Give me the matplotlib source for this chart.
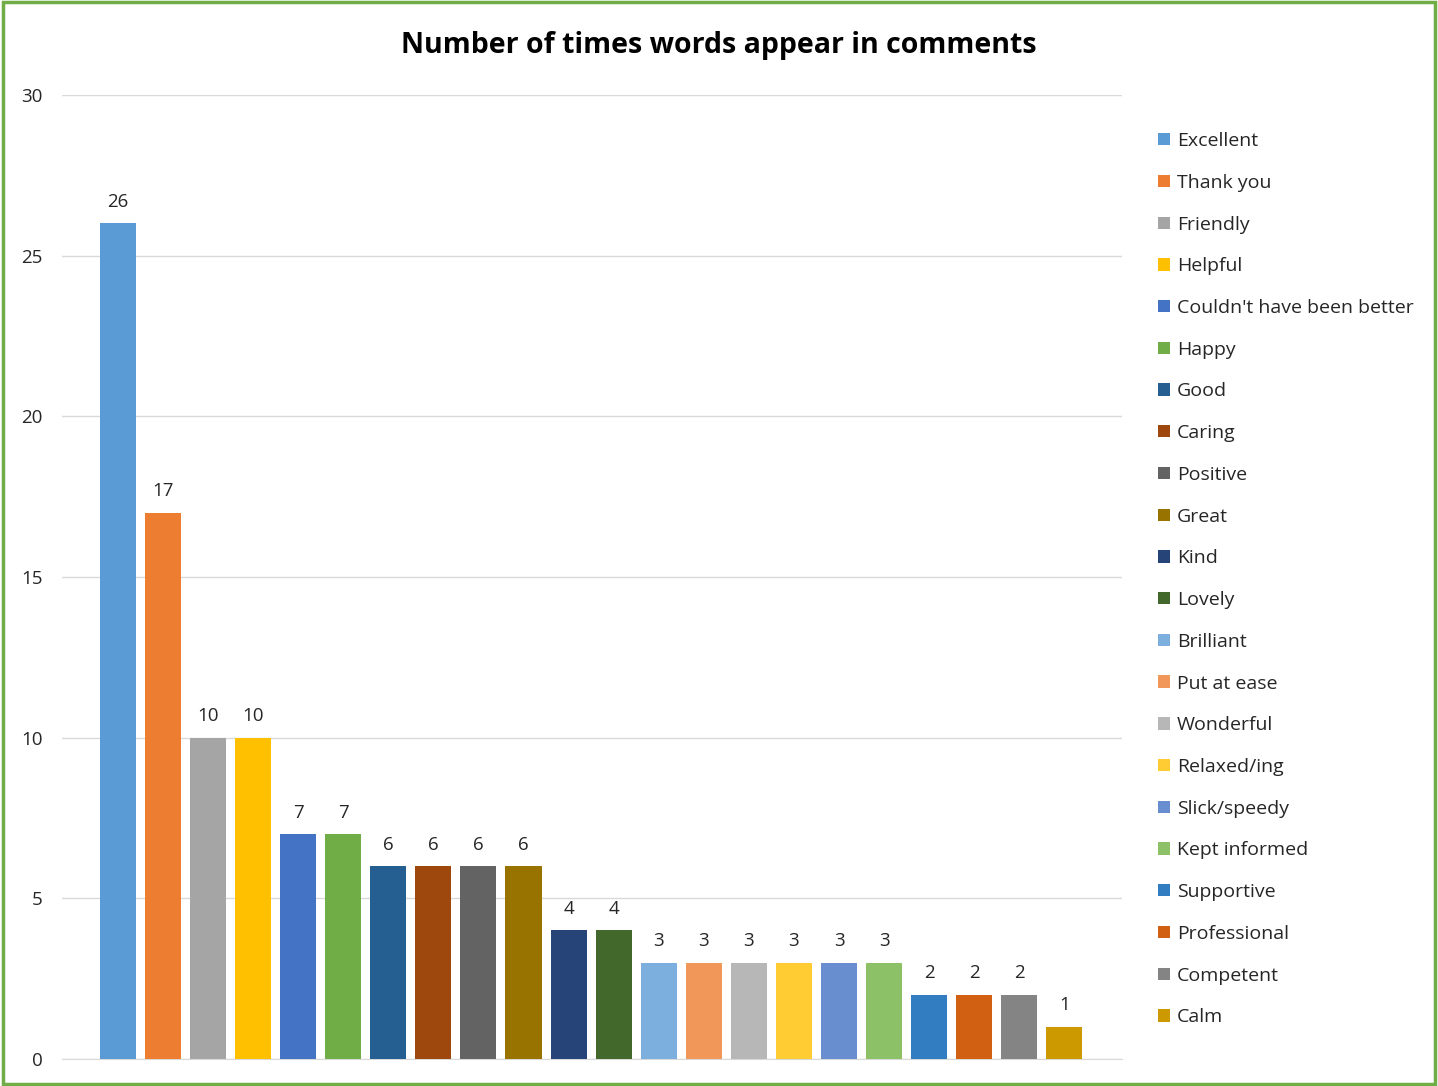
import numpy as np
import matplotlib
matplotlib.use('Agg')
import matplotlib.pyplot as plt
from matplotlib.patches import Rectangle

plt.rcParams['font.family'] = ['Open Sans', 'DejaVu Sans']

# data
words = ['Excellent', 'Thank you', 'Friendly', 'Helpful', "Couldn't have been better",
         'Happy', 'Good', 'Caring', 'Positive', 'Great', 'Kind', 'Lovely',
         'Brilliant', 'Put at ease', 'Wonderful', 'Relaxed/ing', 'Slick/speedy',
         'Kept informed', 'Supportive', 'Professional', 'Competent', 'Calm']
counts = [26, 17, 10, 10, 7, 7, 6, 6, 6, 6, 4, 4, 3, 3, 3, 3, 3, 3, 2, 2, 2, 1]
colors = ['#5B9BD5', '#ED7D31', '#A5A5A5', '#FFC000', '#4472C4', '#70AD47',
          '#255E91', '#9E480E', '#636363', '#997300', '#264478', '#43682B',
          '#7CAFDD', '#F1975A', '#B7B7B7', '#FFCD33', '#698ED0', '#8CC168',
          '#327DC2', '#D26012', '#848484', '#CC9A00']

fig = plt.figure(figsize=(14.38, 10.86), dpi=100)
ax = fig.add_axes([0.0431, 0.0249, 0.7372, 0.8877])

x = np.arange(len(words))
for i in range(len(words)):
    b = ax.bar(x[i], counts[i], width=0.8, color=colors[i], label=words[i], zorder=3)
    ax.bar_label(b, padding=9, fontsize=13.5, color='#262626')

ax.set_xlim(-1.24, len(words) - 1 + 1.28)
ax.set_ylim(0, 30)
ax.set_yticks(np.arange(0, 31, 5))
ax.set_xticks([])
ax.yaxis.grid(True, color='#D9D9D9', linewidth=1, zorder=0)
for s in ['top', 'right', 'left']:
    ax.spines[s].set_visible(False)
ax.spines['bottom'].set_color('#D9D9D9')
ax.tick_params(axis='y', length=0, pad=14, labelsize=13.5, labelcolor='#262626')

fig.text(0.5, 0.958, 'Number of times words appear in comments', ha='center', va='center',
         fontsize=20.5, fontweight='bold', color='black')

ax.legend(loc='upper left', bbox_to_anchor=(0.8, 0.8855), bbox_transform=fig.transFigure,
          frameon=False, fontsize=14, handlelength=0.6, handleheight=0.6,
          handletextpad=0.35, labelspacing=1.22, labelcolor='#262626', borderaxespad=0)

# green border around the chart
fig.patches.append(Rectangle((0.002, 0.002), 0.996, 0.996, transform=fig.transFigure,
                             fill=False, edgecolor='#70AD47', linewidth=2.5))

fig.savefig('out.png', dpi=100)
